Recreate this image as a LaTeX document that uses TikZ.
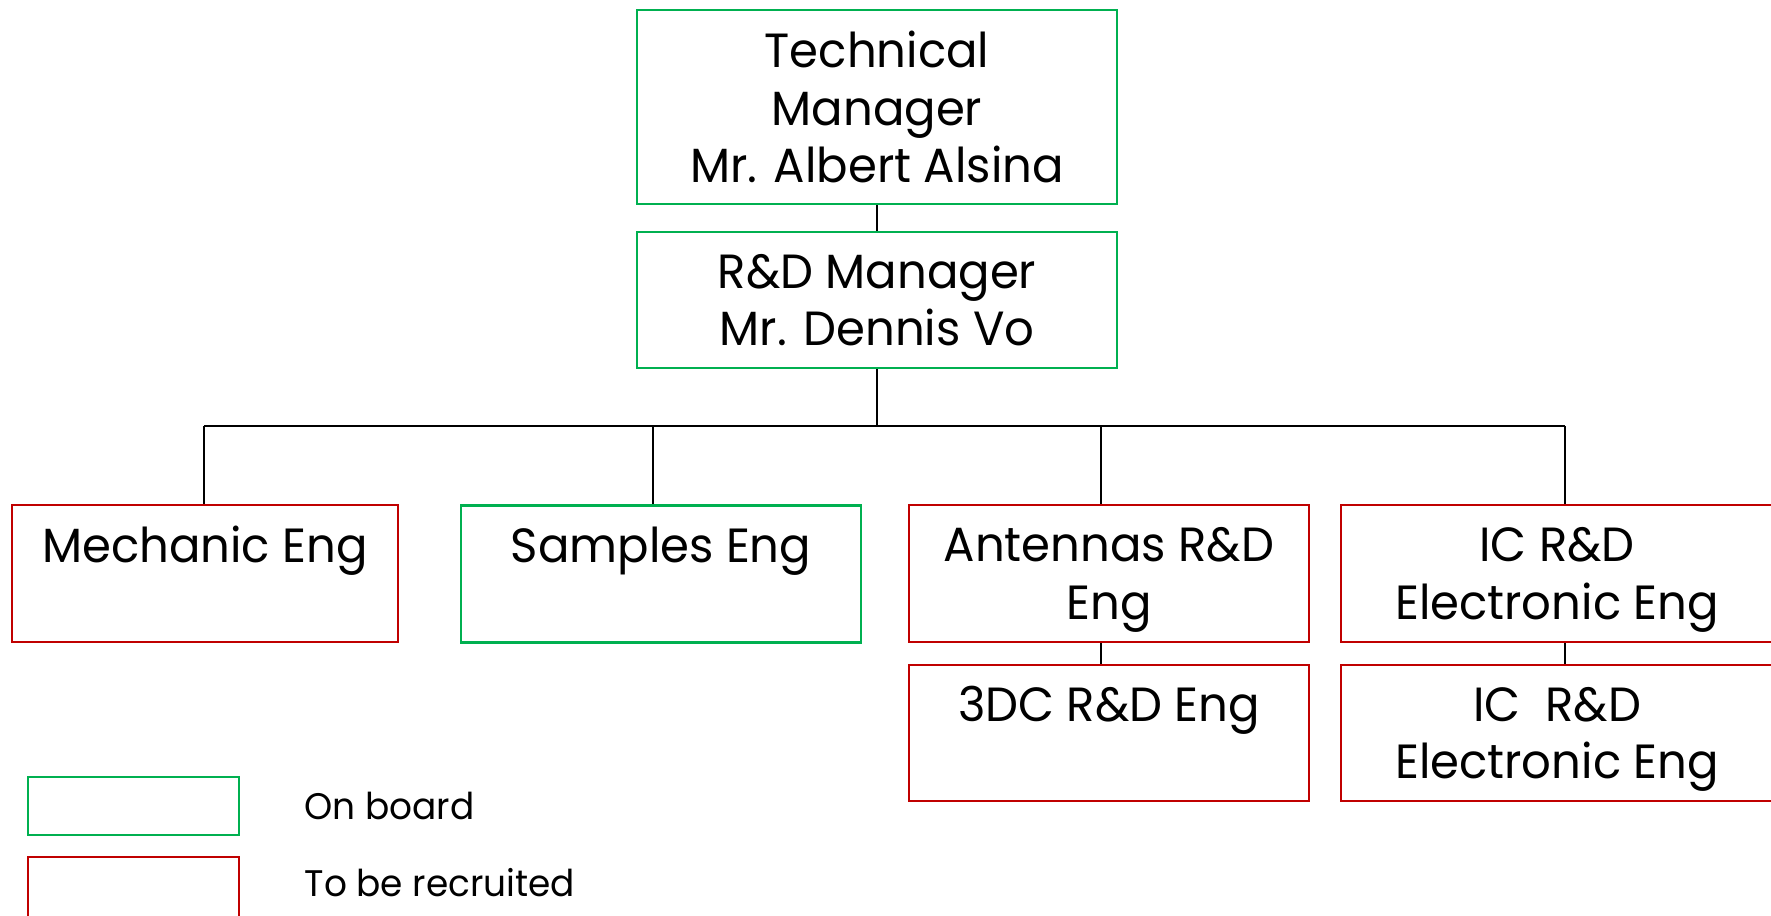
\documentclass[tikz,border=0pt]{standalone}
\usepackage{fontspec}
\setmainfont{Poppins}[FakeStretch=0.97]
\usetikzlibrary{positioning}
\definecolor{boardgreen}{RGB}{0,176,80}
\definecolor{hirered}{RGB}{192,0,0}
\tikzset{
  post/.style={draw, line width=1.2pt, inner sep=0pt, align=center, text depth=0pt,
    font=\fontsize{24}{28.8}\selectfont},
  onboard/.style={post, draw=boardgreen},
  recruit/.style={post, draw=hirered},
  link/.style={line width=1pt},
  keytext/.style={font=\fontsize{18.5}{22}\selectfont, inner sep=0pt},
}
\begin{document}
\begin{tikzpicture}[x=0.5pt,y=-0.5pt]
\useasboundingbox (0,0) rectangle (1771,915);
\clip (0,0) rectangle (1771,915);
\node[onboard,minimum width=240pt,minimum height=97pt] (tech) at (877,107) {Technical\\Manager\\Mr. Albert Alsina};
\node[onboard,minimum width=240pt,minimum height=68pt] (rd) at (877,300) {R\&D Manager\\Mr. Dennis Vo};
\node[recruit,minimum width=193pt,minimum height=68.5pt] (mech) at (205,573.5) {Mechanic Eng\\~};
\node[onboard,minimum width=200pt,minimum height=68.5pt] (samp) at (661,574) {Samples Eng\\~};
\node[recruit,minimum width=200pt,minimum height=68.5pt] (ant) at (1109,573.5) {Antennas R\&D\\Eng};
\node[recruit,minimum width=216pt,minimum height=68.5pt] (ic) at (1557,573.5) {IC R\&D\\Electronic Eng};
\node[recruit,minimum width=200pt,minimum height=68pt] (dc) at (1109,733) {3DC R\&D Eng\\~};
\node[recruit,minimum width=216pt,minimum height=68pt] (ictwo) at (1557,733) {IC\ \ R\&D\\Electronic Eng};
\coordinate (busl) at (204,426);
\coordinate (busr) at (1565,426);
\draw[link] (tech) -- (rd);
\draw[link] (rd) -- (rd |- busl);
\draw[link] (busl) -- (busr);
\draw[link] (busl) -- (busl |- mech.north);
\draw[link] ([xshift=-4pt]samp.north |- busl) -- ([xshift=-4pt]samp.north);
\draw[link] ([xshift=-4pt]ant.north |- busl) -- ([xshift=-4pt]ant.north);
\draw[link] (busr) -- (busr |- ic.north);
\draw[link] ([xshift=-4pt]ant.south) -- ([xshift=-4pt]dc.north);
\draw[link] ([xshift=4pt]ic.south) -- ([xshift=4pt]ictwo.north);
\node[onboard,minimum width=105.5pt,minimum height=29pt] (keyon) at (133.5,806) {};
\node[recruit,minimum width=105.5pt,minimum height=31.5pt] (keynew) at (133.5,888.5) {};
\node[keytext,right=32pt of keyon] (onlabel) {On board};
\node[keytext,right=32pt of keynew.north east,anchor=west,yshift=-13.5pt] (newlabel) {To be recruited};
\end{tikzpicture}
\end{document}
